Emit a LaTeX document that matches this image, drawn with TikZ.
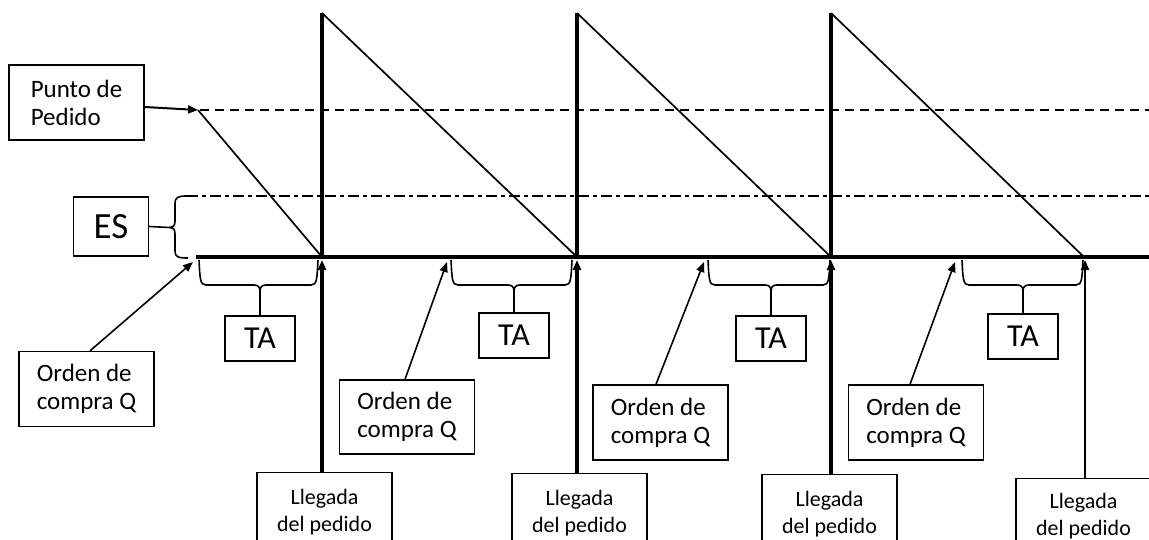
\documentclass[tikz,border=0pt]{standalone}
\usepackage{fontspec}
\setmainfont{Carlito}
\usetikzlibrary{arrows.meta,calc}
\begin{document}
\begin{tikzpicture}[x=1pt,y=-1pt,
  box/.style={draw,line width=1.4pt,inner sep=0pt},
  lbl/.style={box,font=\fontsize{25}{28}\selectfont,align=left,minimum width=135pt,minimum height=75pt},
  tabox/.style={box,font=\fontsize{32}{36}\selectfont,minimum width=70pt,minimum height=45pt},
  llbox/.style={box,font=\fontsize{22}{27}\selectfont,align=center,minimum width=135pt,minimum height=78pt,anchor=north},
  tip/.style={-{Triangle[length=10pt,width=8pt]}},
  axisline/.style={line width=4.5pt},
  vert/.style={line width=3.5pt},
  diag/.style={line width=1.7pt},
  thin/.style={line width=1.6pt},
  dashline/.style={line width=1.5pt,dash pattern=on 9pt off 6pt},
  dashdotline/.style={line width=1.5pt,dash pattern=on 11pt off 4pt on 4pt off 4pt}]
\useasboundingbox (0,0) rectangle (1149,539);
\clip (0,0) rectangle (1149,539);

% reference lines
\coordinate (d0) at (200,110); \coordinate (d1) at (1149,110);
\coordinate (s0) at (187,196); \coordinate (s1) at (1149,196);
\coordinate (a0) at (196,257); \coordinate (a1) at (1149,257);
\draw[dashline] (d0) -- (d1);
\draw[dashdotline] (s0) -- (s1);
\draw[axisline] (a0) -- (a1);

% sawtooth
\coordinate (A0) at (198,110);
\coordinate (B1) at (322,257); \coordinate (P1) at (322,13);
\coordinate (B2) at (577,257); \coordinate (P2) at (577,13);
\coordinate (B3) at (831,257); \coordinate (P3) at (831,13);
\coordinate (B4) at (1084,257);
\draw[diag] (A0) -- (B1);
\draw[diag] (P1) -- (B2);
\draw[diag] (P2) -- (B3);
\draw[diag] (P3) -- (B4);
\draw[vert] (B1) -- (P1);
\draw[vert] (B2) -- (P2);
\draw[vert] (B3) -- (P3);

% boxes
\node[lbl] (punto) at (76.5,102.5) {Punto de\\Pedido};
\node[box,font=\fontsize{37}{40}\selectfont,minimum width=75pt,minimum height=59pt] (es) at (111,226.5) {ES};
\node[lbl] (ord1) at (86.5,389) {Orden de\\compra Q};
\node[lbl,minimum height=74pt] (ord2) at (407,417) {Orden de\\compra Q};
\node[lbl] (ord3) at (660.5,422.5) {Orden de\\compra Q};
\node[lbl] (ord4) at (916,422.5) {Orden de\\compra Q};
\node[tabox] (ta1) at (260,338.5) {TA};
\node[tabox] (ta2) at (514,335.5) {TA};
\node[tabox] (ta3) at (771,338.5) {TA};
\node[tabox] (ta4) at (1023,336.5) {TA};
\node[llbox] (ll1) at (324.5,472) {Llegada\\del pedido};
\node[llbox] (ll2) at (579.5,473) {Llegada\\del pedido};
\node[llbox] (ll3) at (829.5,474) {Llegada\\del pedido};
\node[llbox,minimum height=74pt] (ll4) at (1083.5,478) {Llegada\\del pedido};

% arrivals
\draw[vert,tip] (ll1.north -| B1) -- ([yshift=-3pt]B1);
\draw[vert,tip] (ll2.north -| B2) -- ([yshift=-3pt]B2);
\draw[vert,tip] (ll3.north -| B3) -- ([yshift=-3pt]B3);
\coordinate (B5) at (1085,257);
\draw[line width=2pt,tip] (ll4.north -| B5) -- ([yshift=-3pt]B5);

% punto de pedido arrow
\draw[line width=2pt,tip] ([yshift=-4.5pt]punto.east) -- (A0);

% orden arrows
\coordinate (o1) at (193,262);
\coordinate (o2) at (447,262);
\coordinate (o3) at (704,262);
\coordinate (o4) at (955,262);
\draw[thin,tip] ([xshift=3.5pt]ord1.north) -- (o1);
\draw[thin,tip] ([xshift=-2pt]ord2.north) -- (o2);
\draw[thin,tip] ([xshift=-4.5pt]ord3.north) -- (o3);
\draw[thin,tip] ([xshift=-6pt]ord4.north) -- (o4);

% ES brace
\coordinate (est) at (170,227.5);
\draw[thin] (187,196) .. controls (178,196) and (175,197) .. (175,204) -- (175,221)
  .. controls (175,226) and (173,227.5) .. (est)
  .. controls (173,227.5) and (175,229) .. (175,234) -- (175,251)
  .. controls (175,257) and (178,258) .. (188,258);
\draw[thin] (es.east) -- (est);

% TA braces
\foreach \a/\b/\m/\i in {199/318/260/1, 451/572/514/2, 708/830/771/3, 962/1083/1023/4}{
  \draw[thin] (\a,260) .. controls (\a+1,279) and (\a+1,285) .. (\a+7,285) -- (\m-6,285)
    .. controls (\m-2,285) and (\m,287) .. (\m,291) coordinate (tb\i)
    .. controls (\m,287) and (\m+2,285) .. (\m+6,285) -- (\b-7,285)
    .. controls (\b-1,285) and (\b-1,279) .. (\b,260);
  \draw[thin] (ta\i.north) -- (tb\i);
}
\end{tikzpicture}
\end{document}
